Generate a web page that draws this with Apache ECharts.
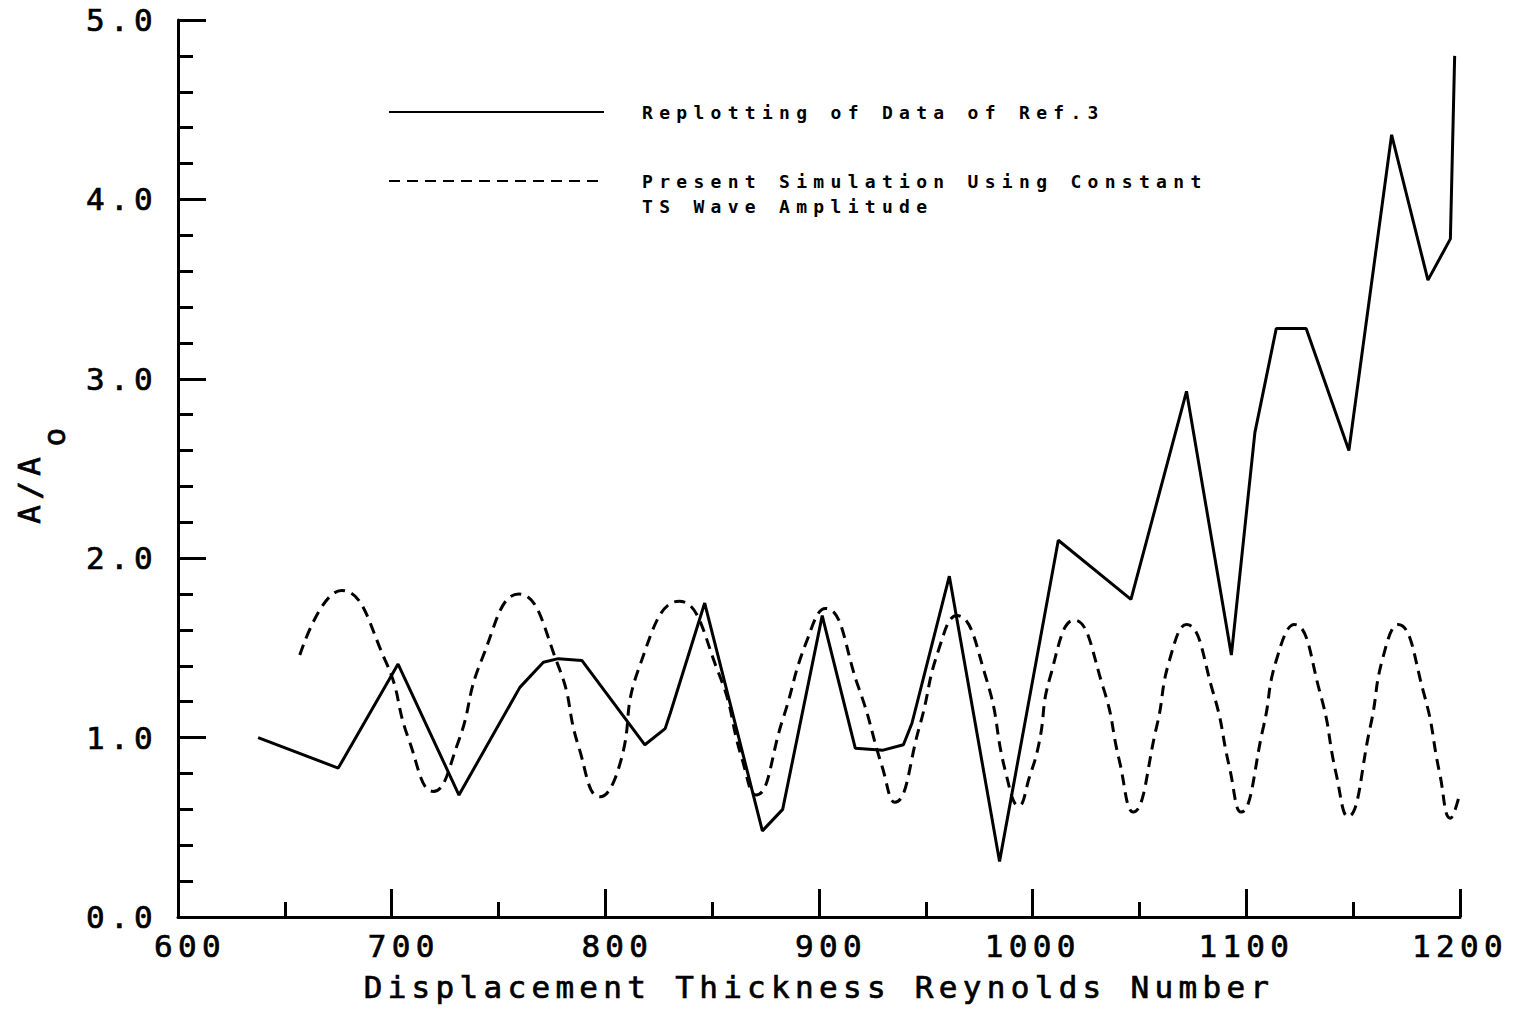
<!DOCTYPE html>
<html>
<head>
<meta charset="utf-8">
<script src="https://cdn.jsdelivr.net/npm/echarts@6/dist/echarts.min.js"></script>
<style>
  html, body { margin: 0; padding: 0; background: #fff; }
  #chart { width: 1516px; height: 1012px; }
  /* wide plotter-style lettering */
  #chart text[style*="31px"] { letter-spacing: 5.3px; stroke: #000; stroke-width: 0.7px; }
  #chart text[style*="18px"] { letter-spacing: 6.3px; }
</style>
</head>
<body>
<div id="chart"></div>
<script>
// Measured amplitude ratio (replotted data)
const refRe  = [637.5, 675, 703, 731.5, 760, 771, 778, 789, 818.5, 828, 830.5, 846.5,
                873.5, 883, 901.5, 917, 930, 939.5, 943.5, 961, 984.5, 1012, 1046, 1072,
                1093, 1104, 1114, 1128, 1148, 1168, 1185, 1195.5, 1197.5];
const refAmp = [1.00, 0.83, 1.41, 0.68, 1.28, 1.42, 1.44, 1.43, 0.96, 1.05, 1.14, 1.75,
                0.48, 0.60, 1.68, 0.94, 0.93, 0.96, 1.08, 1.90, 0.31, 2.10, 1.77, 2.93,
                1.46, 2.70, 3.28, 3.28, 2.60, 4.36, 3.55, 3.78, 4.80];

// Simulation with constant TS wave amplitude
const simRe  = [657, 676.5, 697, 708, 719.5, 731, 742, 759.5, 778, 787.5, 797.5, 806.5,
                815.5, 834.5, 853, 864, 870.5, 883, 894, 903, 918.5, 929.5, 935.5, 947,
                956, 964.5, 978, 987.5, 993.5, 998.5, 1003, 1008, 1019.5, 1033, 1040.5,
                1047, 1058, 1064, 1072, 1084.5, 1092, 1097.5, 1108, 1114, 1122.5, 1134.5,
                1142, 1147.5, 1158, 1164, 1171, 1183, 1190.5, 1195.5, 1199.5];
const simAmp = [1.46, 1.82, 1.43, 0.99, 0.70, 0.97, 1.43, 1.80, 1.40, 0.95, 0.67, 0.84,
                1.38, 1.76, 1.36, 0.88, 0.68, 1.10, 1.53, 1.72, 1.28, 0.84, 0.64, 1.06,
                1.49, 1.68, 1.34, 0.80, 0.62, 0.78, 0.97, 1.33, 1.655, 1.28, 0.875,
                0.585, 1.06, 1.43, 1.63, 1.25, 0.84, 0.585, 1.06, 1.43, 1.63, 1.25,
                0.80, 0.56, 1.06, 1.45, 1.63, 1.25, 0.80, 0.55, 0.67];

// Axis tick labels
const xTickValues = [600, 700, 800, 900, 1000, 1100, 1200];
const xTickLabels = ['\u00a0600', '\u00a0700', '\u00a0800', '\u00a0900', '1000', '1100', '1200'];
const yTickValues = [0, 1, 2, 3, 4, 5];
const yTickLabels = ['0.0', '1.0', '2.0', '3.0', '4.0', '5.0'];

const refName = 'Replotting of Data of Ref.3';
const simName = 'Present Simulation Using Constant\nTS Wave Amplitude';

const FONT = 'DejaVu Sans Mono';
const INK = '#000';
const LW = 3;

const chart = echarts.init(document.getElementById('chart'), null, { renderer: 'svg' });

const axisCommon = {
  axisLine: { show: true, onZero: false, lineStyle: { color: INK, width: LW } },
  axisTick: { show: true, inside: true, length: 28, lineStyle: { color: INK, width: LW } },
  splitLine: { show: false },
  axisLabel: { color: INK, fontFamily: FONT, fontSize: 31 }
};

chart.setOption({
  animation: false,
  backgroundColor: '#fff',
  grid: { left: 178, right: 56, top: 20, bottom: 95, containLabel: false },
  legend: {
    orient: 'vertical',
    left: 388,
    top: 99.5,
    padding: 0,
    itemWidth: 215,
    itemHeight: 20,
    itemGap: 19,
    selectedMode: false,
    itemStyle: { opacity: 0 },
    // the two-line entry gets a blank first line so its first line sits level with the sample
    formatter: name => (name === simName ? '\n' + name : name),
    textStyle: {
      color: INK, fontFamily: FONT, fontSize: 18, fontWeight: 'bold',
      lineHeight: 25, padding: [0, 0, 0, 33]
    },
    data: [refName, simName]
  },
  xAxis: Object.assign({}, axisCommon, {
    type: 'value',
    min: 600,
    max: 1200,
    interval: 100,
    minorTick: { show: true, splitNumber: 2, length: 15, lineStyle: { color: INK, width: LW } },
    axisLabel: Object.assign({}, axisCommon.axisLabel, {
      margin: 13,
      formatter: v => xTickLabels[xTickValues.indexOf(v)]
    }),
    name: 'Displacement Thickness Reynolds Number',
    nameLocation: 'middle',
    nameGap: 54,
    nameTextStyle: { color: INK, fontFamily: FONT, fontSize: 31 }
  }),
  yAxis: Object.assign({}, axisCommon, {
    type: 'value',
    min: 0,
    max: 5,
    interval: 1,
    minorTick: { show: true, splitNumber: 5, length: 15, lineStyle: { color: INK, width: LW } },
    axisLabel: Object.assign({}, axisCommon.axisLabel, {
      margin: 20,
      formatter: v => yTickLabels[yTickValues.indexOf(v)]
    }),
    name: '{a|A/A}{s|o}',
    nameLocation: 'middle',
    nameRotate: 90,
    nameGap: 134,
    nameTextStyle: {
      color: INK,
      fontFamily: FONT,
      fontSize: 31,
      rich: {
        a: { fontFamily: FONT, fontSize: 31, lineHeight: 31, verticalAlign: 'top', color: INK },
        s: { fontFamily: FONT, fontSize: 31, lineHeight: 31, verticalAlign: 'top', color: INK,
             padding: [25, 4, 0, 16] }
      }
    }
  }),
  series: [
    {
      name: refName,
      type: 'line',
      symbol: 'none',
      silent: true,
      lineStyle: { color: INK, width: LW },
      data: refRe.map((x, i) => [x, refAmp[i]])
    },
    {
      name: simName,
      type: 'line',
      symbol: 'none',
      silent: true,
      smooth: true,
      lineStyle: { color: INK, width: LW, type: [11, 7] },
      data: simRe.map((x, i) => [x, simAmp[i]])
    }
  ]
});
</script>
</body>
</html>
